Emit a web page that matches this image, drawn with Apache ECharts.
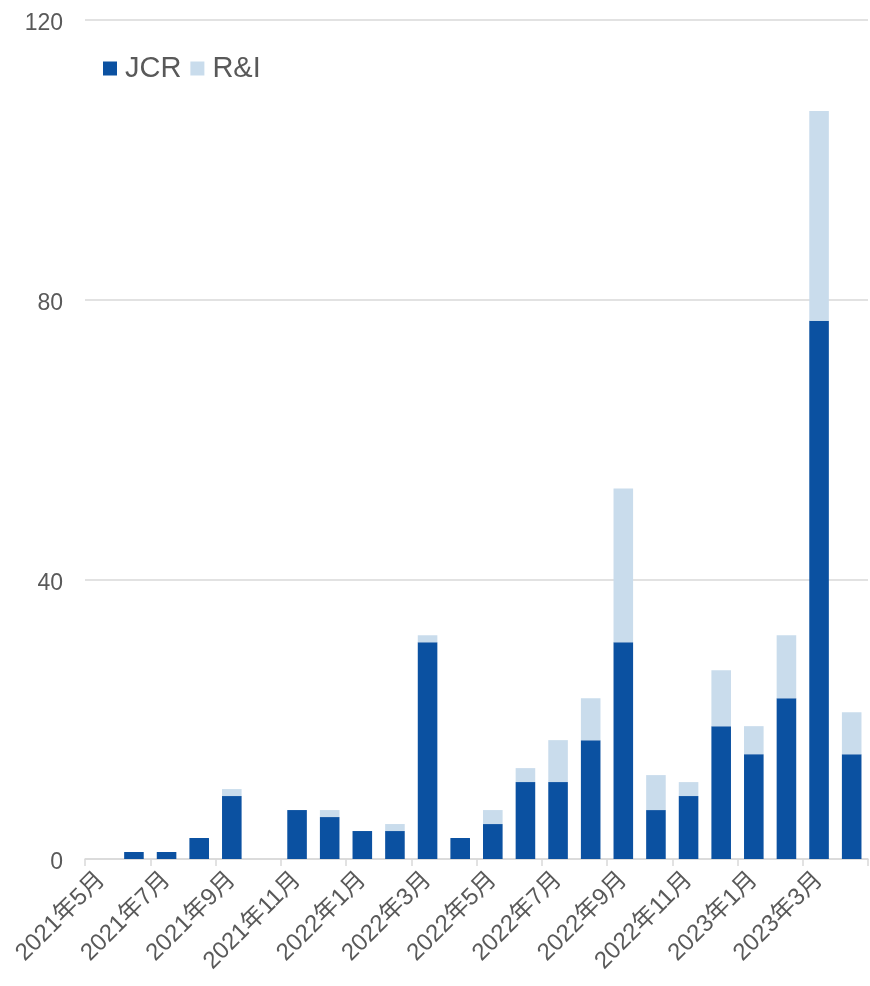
<!DOCTYPE html>
<html><head><meta charset="utf-8">
<script src="https://cdn.jsdelivr.net/npm/echarts@6/dist/echarts.min.js"></script>
<style>html,body{margin:0;padding:0;background:#fff}#c{width:870px;height:986px}</style>
</head><body><div id="c"></div>
<script>
const categories = ['2021年5月','2021年6月','2021年7月','2021年8月','2021年9月','2021年10月','2021年11月','2021年12月',
'2022年1月','2022年2月','2022年3月','2022年4月','2022年5月','2022年6月','2022年7月','2022年8月','2022年9月','2022年10月','2022年11月','2022年12月',
'2023年1月','2023年2月','2023年3月','2023年4月'];
const jcr = [0,1,1,3,9,0,7,6,4,4,31,3,5,11,11,17,31,7,9,19,15,23,77,15];
const ri  = [0,0,0,0,1,0,0,1,0,1,1,0,2,2,6,6,22,5,2,8,4,9,30,6];
const yTicks = [0,40,80,120];

const font = '"Liberation Sans", "Noto Sans CJK JP", sans-serif';
const chart = echarts.init(document.getElementById('c'), null, {renderer:'canvas'});
chart.setOption({
  animation:false,
  grid:{left:85,right:2,top:20,bottom:127,containLabel:false},
  legend:{
    left:98, top:49, itemWidth:14, itemHeight:14, itemGap:9,
    icon:'rect',
    textStyle:{fontFamily:font,fontSize:29,color:'#595959',padding:[0,0,0,3]},
    data:['JCR','R&I']
  },
  xAxis:{
    type:'category', data:categories, boundaryGap:true,
    axisLine:{lineStyle:{color:'#d9d9d9',width:1.5}},
    axisTick:{show:true,interval:1,length:7,lineStyle:{color:'#d9d9d9',width:1.5}},
    axisLabel:{interval:1,rotate:45,margin:17,fontFamily:font,fontSize:24,color:'#595959'}
  },
  yAxis:{
    type:'value', min:0, max:120, interval:40,
    axisLine:{show:false}, axisTick:{show:false},
    splitLine:{lineStyle:{color:'#d9d9d9',width:1.5}},
    axisLabel:{margin:22,fontFamily:font,fontSize:23,color:'#595959',
      formatter:v=>yTicks.includes(v)?'{a|'+v+'}':'',
      rich:{a:{fontFamily:font,fontSize:23,color:'#595959',padding:[8,0,0,0]}}}
  },
  series:[
    {name:'JCR',type:'bar',stack:'a',data:jcr,barWidth:'60%',itemStyle:{color:'#0B51A1'}},
    {name:'R&I',type:'bar',stack:'a',data:ri,barWidth:'60%',itemStyle:{color:'#C9DCEC'}}
  ]
});
</script></body></html>
